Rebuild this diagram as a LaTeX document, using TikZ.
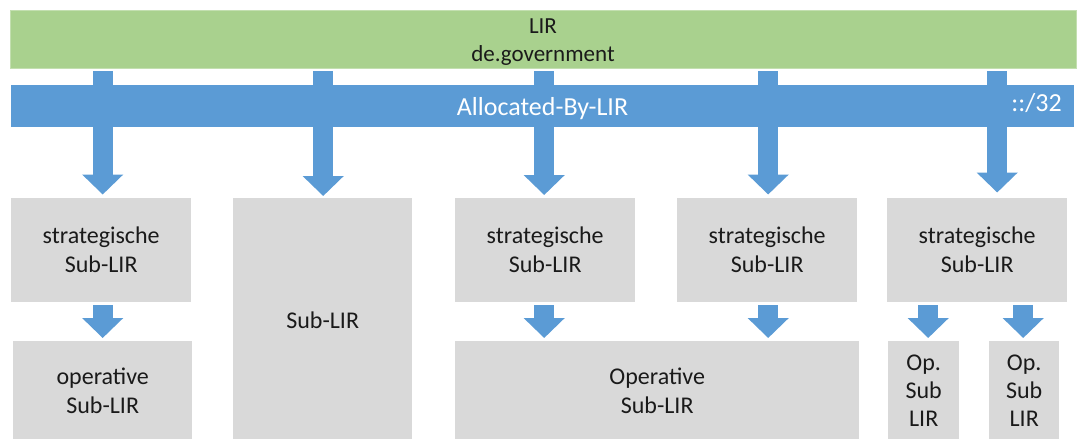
\documentclass[tikz,border=0pt]{standalone}
\usepackage{fontspec}
\setmainfont{Carlito}
\usetikzlibrary{arrows.meta,calc}
\definecolor{lirgreen}{HTML}{A9D18E}
\definecolor{lirblue}{HTML}{5B9BD5}
\definecolor{boxgray}{HTML}{D9D9D9}
\definecolor{txt}{HTML}{1A1A1A}
\begin{document}
\begin{tikzpicture}[x=1pt,y=-1pt,
  bar/.style={rectangle, inner sep=0pt, anchor=north west},
  graybox/.style={rectangle, fill=boxgray, inner sep=0pt, anchor=north west, align=center,
    font=\fontsize{24}{29}\selectfont, text=txt},
  blockarrow/.style={draw=lirblue, line width=20pt, -{Triangle[width=40pt,length=20pt]}},
]
\useasboundingbox (0,0) rectangle (1080,439);
% bars
\node[bar, fill=lirgreen, draw=lirgreen!70!white, line width=0.8pt, minimum width=1066pt, minimum height=58pt] (lir) at (10,10) {};
\node[font=\fontsize{23}{28}\selectfont, text=txt, anchor=base, inner sep=0pt] (lirname) at (543,33) {LIR};
\node[font=\fontsize{23}{28}\selectfont, text=txt, anchor=base, inner sep=0pt] (lirorg) at (543,61) {de.government};
\node[bar, fill=lirblue, minimum width=1063pt, minimum height=42pt] (alloc) at (11,85) {};
% top row boxes
\node[graybox, minimum width=180pt, minimum height=104pt] (s1) at (11,198) {strategische\\Sub-LIR};
\node[graybox, minimum width=179pt, minimum height=245pt] (sub) at (233,198) {Sub-LIR};
\node[graybox, minimum width=180pt, minimum height=104pt] (s3) at (455,198) {strategische\\Sub-LIR};
\node[graybox, minimum width=180pt, minimum height=104pt] (s4) at (677,198) {strategische\\Sub-LIR};
\node[graybox, minimum width=180pt, minimum height=104pt] (s5) at (887,198) {strategische\\Sub-LIR};
% bottom row boxes
\node[graybox, minimum width=179pt, minimum height=100pt] (o1) at (13,341) {operative\\Sub-LIR};
\node[graybox, minimum width=404pt, minimum height=100pt] (o3) at (455,341) {Operative\\Sub-LIR};
\node[graybox, minimum width=71pt, minimum height=100pt, font=\fontsize{24}{28}\selectfont] (o5a) at (888,341) {Op.\\Sub\\LIR};
\node[graybox, minimum width=70pt, minimum height=100pt, font=\fontsize{24}{28}\selectfont] (o5b) at (989,341) {Op.\\Sub\\LIR};
% top arrows
\coordinate (t1) at ($(lir.south -| s1.north)+(1.5,2.5)$);
\coordinate (t2) at ($(lir.south -| sub.north)+(0.5,2.5)$);
\coordinate (t3) at ($(lir.south -| s3.north)+(-1,2.5)$);
\coordinate (t4) at ($(lir.south -| s4.north)+(1,2.5)$);
\coordinate (t5) at ($(lir.south -| s5.north)+(20,2.5)$);
\draw[blockarrow, shorten >=3.5pt] (t1) -- (t1 |- s1.north);
\draw[blockarrow, shorten >=2pt] (t2) -- (t2 |- sub.north);
\draw[blockarrow, shorten >=3pt] (t3) -- (t3 |- s3.north);
\draw[blockarrow, shorten >=3.5pt] (t4) -- (t4 |- s4.north);
\draw[blockarrow, shorten >=5.5pt] (t5) -- (t5 |- s5.north);
% bottom arrows
\coordinate (p1) at (o1.north);
\coordinate (p3) at ($(s3.south)+(-1,0)$);
\coordinate (p4) at ($(s4.south)+(1,0)$);
\coordinate (p5a) at ($(o5a.north)+(4.5,0)$);
\coordinate (p5b) at ($(o5b.north)+(-1,0)$);
\draw[blockarrow, shorten <=3pt, shorten >=3pt] (p1 |- s1.south) -- (p1);
\draw[blockarrow, shorten <=3pt, shorten >=3pt] (p3) -- (p3 |- o3.north);
\draw[blockarrow, shorten <=3pt, shorten >=3pt] (p4) -- (p4 |- o3.north);
\draw[blockarrow, shorten <=3pt, shorten >=3pt] (p5a |- s5.south) -- (p5a);
\draw[blockarrow, shorten <=3pt, shorten >=3pt] (p5b |- s5.south) -- (p5b);
% labels on the blue bar (above the arrows)
\node[text=white, font=\fontsize{26}{30}\selectfont, anchor=base, inner sep=0pt] (alloclabel) at (542.5,115) {Allocated-By-LIR};
\node[text=white, font=\fontsize{26}{30}\selectfont, anchor=base east, inner sep=0pt] (prefix) at (1062,111) {::/32};
\end{tikzpicture}
\end{document}
